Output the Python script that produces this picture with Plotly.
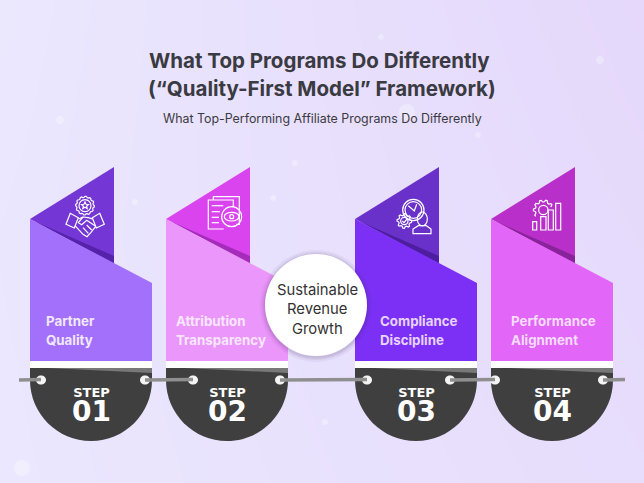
import numpy as np
import plotly.graph_objects as go

# text
title_lines = ["What Top Programs Do Differently", "(“Quality-First Model” Framework)"]
subtitle = "What Top-Performing Affiliate Programs Do Differently"
center_lines = ["Sustainable", "Revenue", "Growth"]
step_word = "STEP"
step_nums = ["01", "02", "03", "04"]
card_names = [["Partner", "Quality"], ["Attribution", "Transparency"],
              ["Compliance", "Discipline"], ["Performance", "Alignment"]]

# colours per card
top_cols = ["#7436d4", "#d944ee", "#6a30ca", "#b830c9"]
fold_cols = ["#5722aa", "#a52cbb", "#4d1fa0", "#8a239b"]
body_cols = ["#a370fb", "#ea96fa", "#7c30f6", "#e266f7"]
name_cols = ["#f1e8ff", "#f8e6ff", "#e6d4ff", "#f6dcff"]

# layout, in pixels of the 644x483 page
card_left = [30, 166, 355, 491]
hole_left = [41, 193, 367, 495]
hole_right = [145, 280, 450, 603]
name_x = [44, 174, 378, 509]
rods = [(19, 41), (145, 193), (280, 367), (450, 495), (603, 625)]
dots = [(22, 468, 8), (381, 37, 3), (407, 112, 8), (478, 135, 3), (273, 198, 3),
        (135, 202, 3), (295, 163, 3), (325, 422, 3), (600, 60, 4), (60, 120, 4)]
bg_z = [[0.0, 0.55, 1.0], [0.1, 0.5, 0.85], [0.05, 0.4, 0.7]]

FONT = "Inter"
shapes = []


def poly(pts, close=True):
    return "M" + " L".join(f"{x:.1f},{y:.1f}" for x, y in pts) + (" Z" if close else "")


def circle(cx, cy, r, ry=None):
    ry = r if ry is None else ry
    k = 0.5523
    return (f"M{cx-r},{cy} C{cx-r},{cy-k*ry} {cx-k*r},{cy-ry} {cx},{cy-ry} "
            f"C{cx+k*r},{cy-ry} {cx+r},{cy-k*ry} {cx+r},{cy} "
            f"C{cx+r},{cy+k*ry} {cx+k*r},{cy+ry} {cx},{cy+ry} "
            f"C{cx-k*r},{cy+ry} {cx-r},{cy+k*ry} {cx-r},{cy} Z")


def fill(path, color, opacity=1):
    shapes.append(dict(type="path", path=path, fillcolor=color, opacity=opacity,
                       line=dict(width=0)))


def stroke(path, width=1.2):
    shapes.append(dict(type="path", path=path, line=dict(color="white", width=width)))


def gear(cx, cy, r_in, r_out, teeth, a0=0, a1=360):
    pts = []
    step = 360 / teeth / 4
    for i, a in enumerate(np.arange(a0, a1 + 0.1, step)):
        r = r_out if i % 4 in (0, 1) else r_in
        pts.append((cx + r * np.cos(np.radians(a)), cy + r * np.sin(np.radians(a))))
    return pts


# icons are sketched in a 180x180 box (60px on the page)
def icon_lines(ox, oy, items):
    for it in items:
        if it[0] == "p":
            pts = [(ox + x / 3, oy + y / 3) for x, y in it[1]]
            stroke(poly(pts, it[2]))
        else:
            _, cx, cy, r, ry = it
            stroke(circle(ox + cx / 3, oy + cy / 3, r / 3, ry / 3))


def star(cx, cy, r):
    pts = []
    for i in range(10):
        rr = r if i % 2 == 0 else r * 0.45
        a = np.radians(-90 + 36 * i)
        pts.append((cx + rr * np.cos(a), cy + rr * np.sin(a)))
    return pts


icons = [
    (55, [("p", gear(90, 62, 25, 28, 12), True), ("c", 90, 62, 18, 18),
          ("p", star(90, 62, 11), True),
          ("p", [(46, 85), (33, 118), (58, 129), (70, 98)], True),
          ("p", [(134, 85), (148, 118), (124, 129), (112, 98)], True),
          ("p", [(70, 102), (84, 96), (100, 98), (112, 102)], False),
          ("p", [(60, 122), (84, 148), (96, 155), (108, 142), (122, 124)], False),
          ("p", [(84, 96), (70, 113), (80, 119), (95, 106), (122, 124)], False),
          ("p", [(84, 128), (100, 145)], False), ("p", [(95, 120), (110, 135)], False)]),
    (195, [("p", [(55, 45), (55, 35), (133, 35), (133, 118), (124, 118)], False),
           ("p", [(86, 132), (40, 132), (40, 45), (115, 45), (115, 65)], False),
           ("c", 110, 95, 30, 30), ("c", 110, 95, 22, 13), ("c", 110, 95, 6, 6),
           ("p", [(50, 62), (85, 62)], False), ("p", [(50, 80), (75, 80)], False),
           ("p", [(50, 97), (72, 97)], False), ("p", [(50, 113), (72, 113)], False)]),
    (385, [("c", 85, 75, 32, 32), ("c", 85, 75, 25, 25),
           ("p", [(70, 62), (88, 78), (95, 58)], False),
           ("p", gear(58, 108, 17, 22, 8), True), ("c", 58, 108, 11, 11),
           ("p", [(52, 108), (57, 113), (66, 102)], False),
           ("c", 112, 102, 15, 21),
           ("p", [(84, 146), (84, 132), (100, 122), (124, 122), (138, 132), (138, 146)], True)]),
    (520, [("p", gear(70, 75, 24, 30, 10, 140, 345), False), ("c", 70, 75, 14, 14),
           ("p", [(38, 110), (50, 110), (50, 135), (38, 135)], True),
           ("p", [(62, 95), (78, 95), (78, 135), (62, 135)], True),
           ("p", [(85, 75), (100, 75), (100, 135), (85, 135)], True),
           ("p", [(107, 55), (122, 55), (122, 135), (107, 135)], True)]),
]

annotations = []


def label(x, y, text, size, color, anchor="center", bold=False, family=FONT):
    annotations.append(dict(x=x, y=y, text=f"<b>{text}</b>" if bold else text, showarrow=False,
                            xanchor=anchor, yanchor="middle", xref="x", yref="y",
                            font=dict(family=family, size=size, color=color)))


for x, y, r in dots:
    fill(circle(x, y, r), "white", 0.3)

for i, left in enumerate(card_left):
    right = left + 122
    mid = left + 84
    cx = left + 61
    # top triangle, fold and body
    fill(poly([(left, 219), (mid, 167), (mid, 264)]), top_cols[i])
    fill(poly([(left + 6, 222), (mid, 256), (mid, 264)]), fold_cols[i])
    fill(poly([(left, 219), (right, 283), (right, 361), (left, 361)]), body_cols[i])
    # white band
    fill(poly([(left, 361), (right, 361), (right, 368), (left, 368)]), "white")
    # dark half disc with its light wedge
    k = 0.5523 * 61
    fill(f"M{left},368 H{right} V380 C{right},{380+k} {cx+k},441 {cx},441 "
         f"C{cx-k},441 {left},{380+k} {left},380 Z", "#3f3f3f")
    fill(poly([(left + 18, 368), (right, 368), (right, 373)]), "#787878")
    fill(circle(hole_left[i], 380, 5, 4.5), "#f4f4f4")
    fill(circle(hole_right[i], 380, 5, 4.5), "#f4f4f4")

    ox, items = icons[i]
    icon_lines(ox, 185, items)

    label(name_x[i], 321, card_names[i][0], 13.3, name_cols[i], "left", True)
    label(name_x[i], 340, card_names[i][1], 13.3, name_cols[i], "left", True)
    # one text block so the word sits tight on the number
    step_text = (f'<span style="font-size:13px">{step_word}</span><br>'
                 f'<span style="font-size:28px">{step_nums[i]}</span>')
    label(cx + 0.5, 406, step_text, 18.5, "white", bold=True, family="DejaVu Sans")

# rods on top of the discs
for a, b in rods:
    shapes.append(dict(type="line", x0=a, x1=b, y0=380, y1=379.5,
                       line=dict(color="#8f8f8f", width=3.5)))

# centre disc with a soft shadow
for grow, op in [(5, 0.05), (3, 0.07), (1.5, 0.09)]:
    fill(circle(316, 306, 51 + grow), "#40305a", op)
fill(circle(316, 305, 51), "white")
for y, line in zip([290, 309, 329], center_lines):
    label(317, y, line, 14.8, "#333333")

label(319, 60, title_lines[0], 20.5, "#3a3a42", bold=True)
label(322, 88, title_lines[1], 20.5, "#3a3a42", bold=True)
label(322, 118, subtitle, 12.4, "#3a3a42")

bg = go.Heatmap(x=[0, 322, 644], y=[0, 240, 483], z=bg_z, zsmooth="best", showscale=False,
                zmin=0, zmax=1, colorscale=[[0, "#ebe8fe"], [1, "#e5d8fb"]], hoverinfo="skip")

fig = go.Figure(data=[bg])
fig.update_layout(width=644, height=483, autosize=False, margin=dict(l=0, r=0, t=0, b=0),
                  paper_bgcolor="#e8e2fc", plot_bgcolor="#e8e2fc",
                  shapes=shapes, annotations=annotations, showlegend=False,
                  xaxis=dict(range=[0, 644], visible=False, fixedrange=True),
                  yaxis=dict(range=[483, 0], visible=False, fixedrange=True))
fig.write_html("out.html", config=dict(displayModeBar=False),
               post_script="document.body.style.margin='0';")
